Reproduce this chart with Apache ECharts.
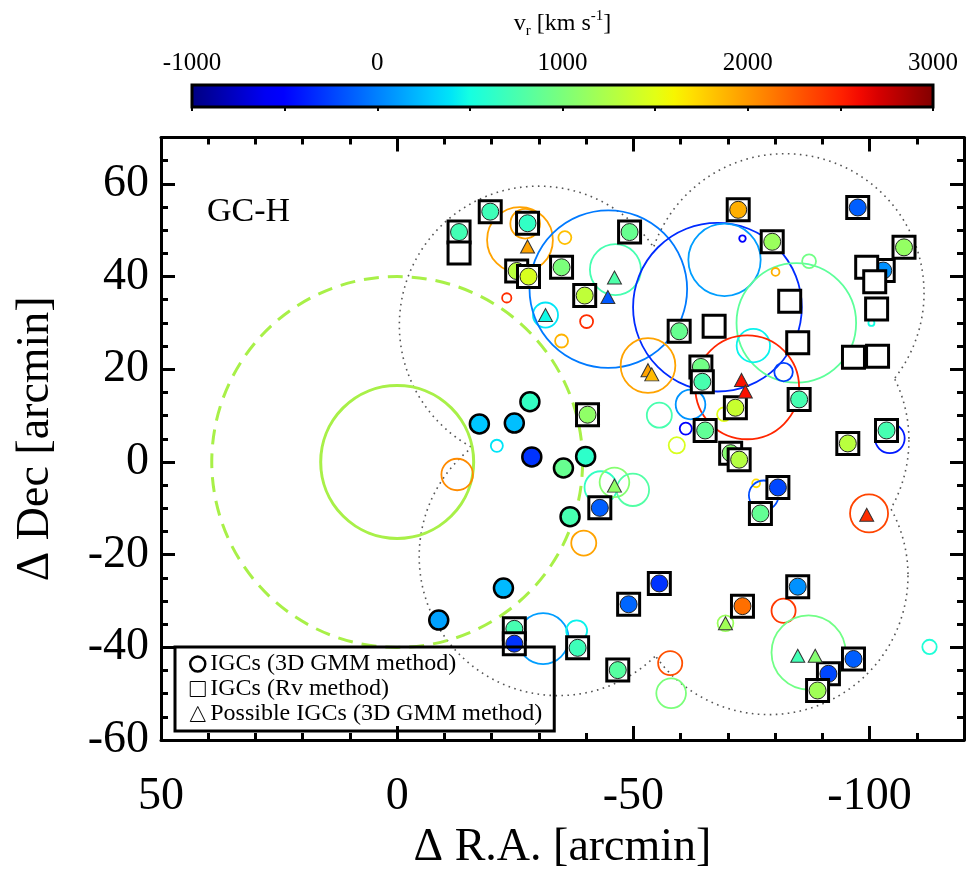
<!DOCTYPE html>
<html>
<head>
<meta charset="utf-8">
<title>GC-H</title>
<script src="https://cdn.jsdelivr.net/npm/echarts@6/dist/echarts.min.js"></script>
<style>
  html, body { margin: 0; padding: 0; background: #fff; }
  #chart { width: 967px; height: 876px; }
</style>
</head>
<body>
<div id="chart"></div>
<script>
// v_r colour scale and tick labels
var vrRange = [-1000, 3000];
var vrTicks = [-1000, 0, 1000, 2000, 3000];
var raTicks = [50, 0, -50, -100];
var decTicks = [-60, -40, -20, 0, 20, 40, 60];

// GC-H group circles (arcmin)
var gcCenter = [0, 0];
var gcInnerRadius = 16.5;
var gcOuterRadius = 40;

// survey fields, union outline
var fieldCenters = [[-29.9, 29.5], [-82.1, 36.5], [-78.9, 4.7], [-78.7, -24.5], [-34.1, -20.4]];
var fieldRadius = 30;

// [dRA, dDec, vr]
var gmmOnly = [
  [-17.4, 8.2, 280], [-24.8, 8.4, 250], [-28.1, 13.0, 650], [-28.5, 1.1, -300],
  [-35.2, -1.3, 900], [-39.9, 1.2, 620], [-36.6, -11.8, 740], [-8.8, -34.1, 130],
  [-22.5, -27.2, 230]
];

var bothMethods = [
  [-13.1, 49.6, 720], [-19.7, 54.0, 700], [-27.6, 51.5, 640], [-25.3, 41.2, 1300],
  [-27.8, 40.0, 1450], [-34.8, 42.0, 1000], [-39.7, 35.9, 1330], [-49.2, 49.6, 900],
  [-59.7, 28.2, 900], [-72.2, 54.4, 1900], [-97.5, 54.9, -130], [-79.4, 47.5, 1150],
  [-107.3, 46.3, 1120], [-102.9, 41.3, 70], [-64.3, 20.5, 950], [-64.6, 17.3, 750],
  [-71.6, 11.7, 1370], [-85.1, 13.5, 740], [-65.2, 6.8, 870], [-103.6, 6.8, 740],
  [-95.4, 4.0, 1300], [-70.6, 1.9, 1050], [-72.4, 0.5, 1280], [-80.6, -5.5, -220],
  [-76.9, -11.1, 880], [-40.3, 10.2, 1100], [-42.9, -9.9, -130], [-24.8, -36.0, 740],
  [-24.8, -39.2, -300], [-38.2, -40.1, 700], [-46.7, -44.9, 820], [-49.0, -30.7, -100],
  [-55.5, -26.2, -300], [-84.8, -26.9, 70], [-73.1, -31.1, 2170], [-96.6, -42.5, -130],
  [-91.3, -45.7, -220], [-89.0, -49.3, 1180]
];

// [dRA, dDec]
var rvOnly = [
  [-13.1, 45.1], [-99.4, 42.0], [-101.1, 38.9], [-101.5, 33.0], [-83.1, 34.7],
  [-67.1, 29.3], [-84.8, 25.7], [-96.6, 22.6], [-101.7, 22.8]
];

var possible = [
  [-27.6, 46.5, 1950], [-46.0, 39.8, 780], [-44.6, 35.6, -150], [-31.4, 31.7, 480],
  [-53.1, 19.8, 1950], [-53.9, 18.9, 1850], [-72.9, 17.7, 2570], [-73.7, 15.2, 2570],
  [-46.0, -5.1, 1100], [-99.4, -11.4, 2450], [-69.5, -34.8, 1180], [-84.8, -41.8, 720],
  [-88.5, -41.8, 1050]
];

// open rings: [dRA, dDec, radius, vr]
var rings = [
  [-27.1, 51.4, 3.2, 1950], [-26.0, 47.9, 7.1, 1950], [-35.5, 48.4, 1.4, 1830],
  [-23.2, 35.4, 1.0, 2450], [-31.4, 31.7, 2.7, 400], [-40.1, 30.3, 1.4, 2450],
  [-34.8, 26.1, 1.4, 1880], [-46.2, 41.5, 5.5, 740], [-44.7, 37.3, 17.0, -20],
  [-67.8, 33.4, 18.2, -330], [-69.3, 43.6, 7.8, 120], [-73.1, 48.2, 0.7, -550],
  [-84.5, 30.0, 12.9, 850], [-87.2, 43.3, 1.5, 950], [-80.1, 41.0, 0.85, 1900],
  [-100.4, 30.0, 0.65, 500], [-75.4, 25.1, 3.6, 450], [-74.1, 16.1, 11.2, 2480],
  [-81.8, 19.4, 2.0, -250], [-69.2, 10.3, 1.5, 1500], [-62.1, 12.4, 3.2, 80],
  [-104.3, 5.1, 3.2, -400], [-76.0, -4.6, 0.85, 1700], [-77.6, -7.2, 3.2, -200],
  [-99.9, -11.1, 4.1, 2350], [-21.1, 3.5, 1.3, 400], [-12.7, -2.7, 3.4, 2050],
  [-43.1, -5.5, 3.5, 650], [-46.0, -4.4, 3.2, 1050], [-49.9, -6.0, 3.5, 800],
  [-39.5, -17.5, 2.7, 1950], [-53.1, 20.8, 5.9, 1950], [-55.5, 10.1, 2.7, 750],
  [-61.1, 7.2, 1.3, -550], [-59.2, 3.6, 1.75, 1450], [-30.9, -38.1, 5.5, 120],
  [-38.0, -36.4, 2.25, 450], [-57.8, -43.4, 2.6, 2300], [-58.0, -49.9, 3.2, 1000],
  [-81.8, -32.1, 2.6, 2400], [-69.5, -34.8, 1.7, 1150], [-87.1, -41.1, 8.0, 950],
  [-112.7, -39.9, 1.55, 550]
];

var FONT = 'Liberation Serif';

function interp(f, pts) {
  for (var i = 1; i < pts.length; i++) {
    if (f <= pts[i][0]) {
      var a = pts[i - 1], b = pts[i];
      return a[1] + (b[1] - a[1]) * (f - a[0]) / (b[0] - a[0]);
    }
  }
  return pts[pts.length - 1][1];
}

// jet colour table
function jet(v) {
  var f = Math.max(0, Math.min(1, (v - vrRange[0]) / (vrRange[1] - vrRange[0])));
  var r = interp(f, [[0, 0], [0.35, 0], [0.66, 1], [0.89, 1], [1, 0.5]]);
  var g = interp(f, [[0, 0], [0.125, 0], [0.375, 1], [0.64, 1], [0.91, 0], [1, 0]]);
  var b = interp(f, [[0, 0.5], [0.11, 1], [0.34, 1], [0.65, 0], [1, 0]]);
  return 'rgb(' + Math.round(r * 255) + ',' + Math.round(g * 255) + ',' + Math.round(b * 255) + ')';
}

// x axis runs on -dRA so that R.A. grows to the left
function flip(d) { return [-d[0]].concat(d.slice(1)); }

function axis(extra) {
  var a = {
    type: 'value', gridIndex: 0,
    splitLine: { show: false },
    axisLine: { show: false, onZero: false },
    axisLabel: { show: false },
    axisTick: { inside: true, length: 7, lineStyle: { color: '#000', width: 3 } }
  };
  for (var k in extra) a[k] = extra[k];
  return a;
}

var lineOn = { show: true, onZero: false, lineStyle: { color: '#000', width: 3 } };
var majorTick = { inside: true, length: 14, lineStyle: { color: '#000', width: 3 } };

var xr = { min: -50, max: 120 };
var yr = { min: -60, max: 70 };

var myChart = echarts.init(document.getElementById('chart'));

myChart.setOption({
  animation: false,
  title: {
    text: 'GC-H', left: 207, top: 195, padding: 0,
    textStyle: { fontFamily: FONT, fontSize: 34, fontWeight: 'normal', color: '#000' }
  },
  legend: {
    orient: 'vertical', left: 175, top: 647,
    padding: [5, 12, 5, 14], itemGap: 1, itemWidth: 15, itemHeight: 15, itemTextGap: 9,
    borderColor: '#000', borderWidth: 3, selectedMode: false,
    textStyle: { fontFamily: FONT, fontSize: 24, color: '#000', lineHeight: 24 },
    data: [
      { name: 'IGCs (3D GMM method)', icon: 'circle',
        itemStyle: { color: 'rgba(0,0,0,0)', borderColor: '#000', borderWidth: 2.5 } },
      { name: 'IGCs (Rv method)', icon: 'rect',
        itemStyle: { color: 'rgba(0,0,0,0)', borderColor: '#000', borderWidth: 1 } },
      { name: 'Possible IGCs (3D GMM method)', icon: 'triangle',
        itemStyle: { color: 'rgba(0,0,0,0)', borderColor: '#000', borderWidth: 1 } }
    ]
  },
  grid: [
    { left: 161, top: 137.5, width: 807.5, height: 617.5 },
    { left: 192, top: 85, width: 741, height: 22 }
  ],
  xAxis: [
    axis({ position: 'bottom', min: xr.min, max: xr.max, interval: 50, axisLine: lineOn, axisTick: majorTick,
      axisLabel: { show: true, margin: 34, fontFamily: FONT, fontSize: 46, color: '#000',
        formatter: function (v) { return raTicks.indexOf(-v) >= 0 ? String(-v) : ''; } },
      name: '\u0394 R.A. [arcmin]', nameLocation: 'middle', nameGap: 76,
      nameTextStyle: { fontFamily: FONT, fontSize: 46, color: '#000' } }),
    axis({ position: 'bottom', min: xr.min, max: xr.max, interval: 10 }),
    axis({ position: 'top', min: xr.min, max: xr.max, interval: 50, axisLine: lineOn, axisTick: majorTick }),
    axis({ position: 'top', min: xr.min, max: xr.max, interval: 10 }),
    {
      type: 'value', gridIndex: 1, position: 'top', min: vrRange[0], max: vrRange[1], interval: 500, z: 10,
      splitLine: { show: false }, axisLine: { show: false },
      axisTick: { inside: true, length: 4, lineStyle: { color: '#000', width: 2 } },
      axisLabel: { margin: 9, fontFamily: FONT, fontSize: 25, color: '#000',
        formatter: function (v) { return vrTicks.indexOf(v) >= 0 ? String(v) : ''; } },
      name: '{a|v}{b|r}{a| [km s}{c|-1}{a|]}', nameLocation: 'middle', nameGap: 46,
      nameTextStyle: {
        rich: {
          a: { fontFamily: FONT, fontSize: 24, color: '#000', lineHeight: 30 },
          b: { fontFamily: FONT, fontSize: 15, color: '#000', lineHeight: 14, verticalAlign: 'bottom' },
          c: { fontFamily: FONT, fontSize: 15, color: '#000', lineHeight: 14, verticalAlign: 'top' }
        }
      }
    }
  ],
  yAxis: [
    axis({ position: 'left', min: yr.min, max: yr.max, interval: 20, axisLine: lineOn, axisTick: majorTick,
      axisLabel: { show: true, margin: 12, fontFamily: FONT, fontSize: 46, color: '#000',
        formatter: function (v) { return decTicks.indexOf(v) >= 0 ? String(v) : ''; } },
      name: '\u0394 Dec [arcmin]', nameLocation: 'middle', nameGap: 102,
      nameTextStyle: { fontFamily: FONT, fontSize: 46, color: '#000' } }),
    axis({ position: 'left', min: yr.min, max: yr.max, interval: 5 }),
    axis({ position: 'right', min: yr.min, max: yr.max, interval: 20, axisLine: lineOn, axisTick: majorTick }),
    axis({ position: 'right', min: yr.min, max: yr.max, interval: 5 }),
    { type: 'value', gridIndex: 1, min: 0, max: 1, show: false }
  ],
  series: [
    {
      // dotted outline of the union of survey fields
      type: 'custom', name: 'fields', silent: true, z: 1, clip: true,
      data: fieldCenters.map(flip),
      renderItem: function (params, api) {
        var pts = fieldCenters.map(function (c) { return api.coord([-c[0], c[1]]); });
        var rpx = api.size([fieldRadius, fieldRadius])[1];
        var i = params.dataIndex, c = pts[i];
        var segs = [], cur = [];
        for (var k = 0; k <= 720; k++) {
          var t = k / 720 * 2 * Math.PI;
          var p = [c[0] + rpx * Math.cos(t), c[1] + rpx * Math.sin(t)];
          var inside = pts.some(function (q, j) {
            return j !== i && Math.hypot(p[0] - q[0], p[1] - q[1]) < rpx - 0.01;
          });
          if (!inside) cur.push(p);
          else { if (cur.length > 1) segs.push(cur); cur = []; }
        }
        if (cur.length > 1) segs.push(cur);
        // drop tiny inner slivers where three fields almost meet
        segs = segs.filter(function (s) { return s.length > 12; });
        return {
          type: 'group',
          children: segs.map(function (s) {
            return { type: 'polyline', shape: { points: s },
              style: { fill: 'none', stroke: '#555', lineWidth: 1.6, lineDash: [1.6, 4.4] } };
          })
        };
      }
    },
    {
      type: 'custom', name: 'gcOuter', silent: true, z: 1, clip: true,
      data: [[-gcCenter[0], gcCenter[1], gcOuterRadius]],
      renderItem: function (params, api) {
        var c = api.coord([api.value(0), api.value(1)]);
        var r = api.size([api.value(2), api.value(2)])[1];
        return { type: 'circle', shape: { cx: c[0], cy: c[1], r: r },
          style: { fill: 'none', stroke: '#a8f048', lineWidth: 3, lineDash: [15, 9] } };
      }
    },
    {
      type: 'custom', name: 'gcInner', silent: true, z: 1, clip: true,
      data: [[-gcCenter[0], gcCenter[1], gcInnerRadius]],
      renderItem: function (params, api) {
        var c = api.coord([api.value(0), api.value(1)]);
        var r = api.size([api.value(2), api.value(2)])[1];
        return { type: 'circle', shape: { cx: c[0], cy: c[1], r: r },
          style: { fill: 'none', stroke: '#a8f048', lineWidth: 3 } };
      }
    },
    {
      type: 'custom', name: 'rings', silent: true, z: 1, clip: true,
      data: rings.map(flip),
      renderItem: function (params, api) {
        var c = api.coord([api.value(0), api.value(1)]);
        var r = api.size([api.value(2), api.value(2)])[1];
        return { type: 'circle', shape: { cx: c[0], cy: c[1], r: r },
          style: { fill: 'none', stroke: jet(api.value(3)), lineWidth: 1.8 } };
      }
    },
    {
      type: 'scatter', name: 'IGCs (Rv method)', z: 3,
      symbol: 'rect', symbolSize: 22,
      itemStyle: { color: '#fff', borderColor: '#000', borderWidth: 3, opacity: 1 },
      data: rvOnly.map(flip)
    },
    {
      // in both samples: square with coloured circle
      type: 'custom', name: 'IGCs (Rv method)', z: 3, clip: true,
      data: bothMethods.map(flip),
      renderItem: function (params, api) {
        var c = api.coord([api.value(0), api.value(1)]);
        return {
          type: 'group',
          children: [
            { type: 'rect', shape: { x: c[0] - 11, y: c[1] - 11, width: 22, height: 22 },
              style: { fill: '#fff', stroke: '#000', lineWidth: 3 } },
            { type: 'circle', shape: { cx: c[0], cy: c[1], r: 8.5 },
              style: { fill: jet(api.value(2)), stroke: '#222', lineWidth: 1 } }
          ]
        };
      }
    },
    {
      type: 'scatter', name: 'IGCs (3D GMM method)', z: 4,
      symbol: 'circle', symbolSize: 19,
      itemStyle: {
        color: function (p) { return jet(p.data[2]); },
        borderColor: '#000', borderWidth: 2.5, opacity: 1
      },
      data: gmmOnly.map(flip)
    },
    {
      type: 'scatter', name: 'Possible IGCs (3D GMM method)', z: 4,
      symbol: 'triangle', symbolSize: [14, 13],
      itemStyle: {
        color: function (p) { return jet(p.data[2]); },
        borderColor: '#333', borderWidth: 1, opacity: 1
      },
      data: possible.map(flip)
    },
    {
      // colour bar
      type: 'custom', name: 'colorbar', silent: true, xAxisIndex: 4, yAxisIndex: 4, clip: false,
      data: [vrRange],
      renderItem: function (params, api) {
        var p0 = api.coord([api.value(0), 0]);
        var p1 = api.coord([api.value(1), 1]);
        var stops = [];
        for (var i = 0; i <= 40; i++) {
          stops.push({ offset: i / 40, color: jet(vrRange[0] + (vrRange[1] - vrRange[0]) * i / 40) });
        }
        return { type: 'rect',
          shape: { x: p0[0], y: p1[1], width: p1[0] - p0[0], height: p0[1] - p1[1] },
          style: { fill: { type: 'linear', x: 0, y: 0, x2: 1, y2: 0, colorStops: stops },
            stroke: '#000', lineWidth: 3 } };
      }
    }
  ]
});
</script>
</body>
</html>
